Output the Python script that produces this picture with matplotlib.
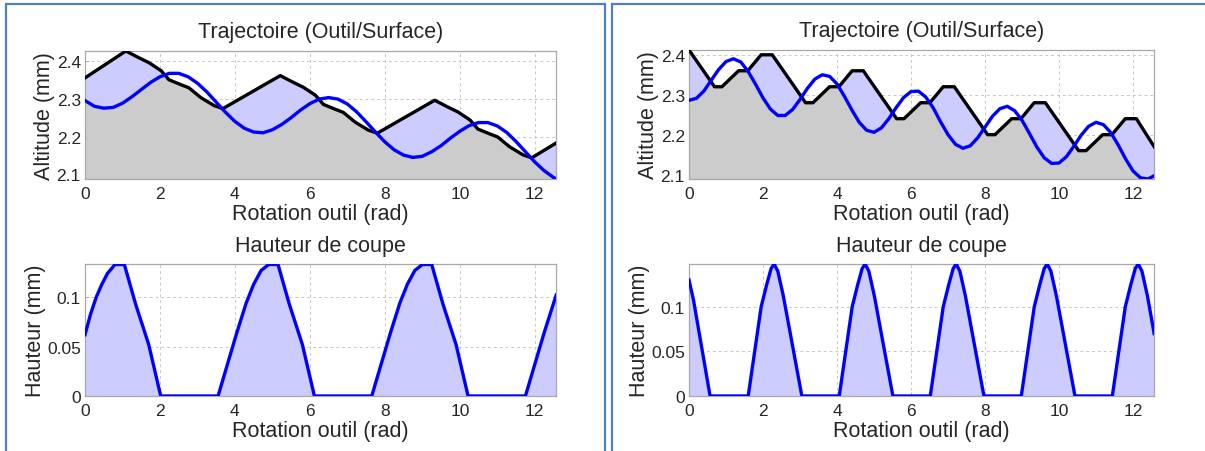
import matplotlib
matplotlib.use('Agg')
import matplotlib.pyplot as plt
from matplotlib.patches import Rectangle

plt.rcParams['font.family'] = ['Liberation Sans', 'DejaVu Sans']

# ---- left case: trajectory (blue = tool, black = surface) ----
left_tool_x = [0, 0.25, 0.5, 0.75, 1.0, 1.25, 1.5, 1.75, 2.0, 2.25, 2.5, 2.75, 3.0, 3.25,
               3.5, 3.75, 4.0, 4.25, 4.5, 4.75, 5.0, 5.25, 5.5, 5.75, 6.0, 6.25, 6.5, 6.75,
               7.0, 7.25, 7.5, 7.75, 8.0, 8.25, 8.5, 8.75, 9.0, 9.25, 9.5, 9.75, 10.0, 10.25,
               10.5, 10.75, 11.0, 11.25, 11.5, 11.75, 12.0, 12.25, 12.5, 12.57]
left_tool_y = [2.295, 2.280, 2.275, 2.277, 2.288, 2.305, 2.324, 2.343, 2.358, 2.367, 2.367,
               2.358, 2.341, 2.318, 2.291, 2.264, 2.240, 2.222, 2.212, 2.210, 2.218, 2.232,
               2.250, 2.270, 2.287, 2.299, 2.303, 2.299, 2.286, 2.265, 2.239, 2.212, 2.186,
               2.165, 2.151, 2.145, 2.148, 2.160, 2.176, 2.196, 2.214, 2.229, 2.237, 2.237,
               2.228, 2.211, 2.187, 2.160, 2.133, 2.110, 2.092, 2.088]
left_surf_x = [0, 1.09, 1.44, 1.71, 2.03, 2.24, 2.56, 2.77, 3.09, 3.44, 3.68,
               5.21, 5.56, 5.83, 6.15, 6.36, 6.68, 6.89, 7.21, 7.56, 7.80,
               9.33, 9.68, 9.95, 10.27, 10.48, 10.80, 11.01, 11.33, 11.68, 11.92, 12.57]
left_surf_y = [2.355, 2.426, 2.408, 2.395, 2.374, 2.350, 2.337, 2.329, 2.303, 2.282, 2.274,
               2.361, 2.343, 2.330, 2.309, 2.285, 2.272, 2.264, 2.238, 2.217, 2.209,
               2.296, 2.278, 2.265, 2.244, 2.220, 2.207, 2.199, 2.173, 2.152, 2.144, 2.183]
left_cut_x = [0, 0.15, 0.3, 0.45, 0.6, 0.8, 1.05, 1.35, 1.7, 2.02, 3.55,
              3.8, 4.05, 4.3, 4.5, 4.7, 4.9, 5.15, 5.45, 5.8, 6.12, 7.65,
              7.9, 8.15, 8.4, 8.6, 8.8, 9.0, 9.25, 9.55, 9.9, 10.22, 11.75,
              12.0, 12.25, 12.57]
left_cut_y = [0.062, 0.083, 0.100, 0.113, 0.124, 0.133, 0.133, 0.093, 0.052, 0.0, 0.0,
              0.032, 0.064, 0.094, 0.113, 0.127, 0.133, 0.133, 0.093, 0.052, 0.0, 0.0,
              0.032, 0.064, 0.094, 0.113, 0.127, 0.133, 0.133, 0.093, 0.052, 0.0, 0.0,
              0.032, 0.064, 0.102]

# ---- right case ----
right_tool_x = [0, 0.2, 0.4, 0.6, 0.8, 1.0, 1.2, 1.4, 1.6, 1.8, 2.0, 2.2, 2.4, 2.6, 2.8,
                3.0, 3.2, 3.4, 3.6, 3.8, 4.0, 4.2, 4.4, 4.6, 4.8, 5.0, 5.2, 5.4, 5.6, 5.8,
                6.0, 6.2, 6.4, 6.6, 6.8, 7.0, 7.2, 7.4, 7.6, 7.8, 8.0, 8.2, 8.4, 8.6, 8.8,
                9.0, 9.2, 9.4, 9.6, 9.8, 10.0, 10.2, 10.4, 10.6, 10.8, 11.0, 11.2, 11.4,
                11.6, 11.8, 12.0, 12.2, 12.4, 12.57]
right_tool_y = [2.286, 2.291, 2.309, 2.336, 2.363, 2.383, 2.390, 2.382, 2.358, 2.326, 2.292,
                2.264, 2.248, 2.248, 2.263, 2.288, 2.316, 2.339, 2.350, 2.346, 2.327, 2.296,
                2.262, 2.231, 2.211, 2.206, 2.217, 2.240, 2.268, 2.293, 2.308, 2.309, 2.294,
                2.267, 2.232, 2.200, 2.176, 2.166, 2.172, 2.192, 2.219, 2.246, 2.265, 2.271,
                2.260, 2.236, 2.203, 2.169, 2.142, 2.128, 2.129, 2.145, 2.171, 2.199, 2.221,
                2.231, 2.225, 2.205, 2.174, 2.139, 2.109, 2.092, 2.089, 2.097]
right_surf_x = [0, 0.69, 0.89, 1.34, 1.59, 1.95, 2.25,
                3.15, 3.35, 3.80, 4.05, 4.41, 4.71,
                5.61, 5.81, 6.26, 6.51, 6.87, 7.17,
                8.07, 8.27, 8.72, 8.97, 9.33, 9.63,
                10.53, 10.73, 11.18, 11.43, 11.79, 12.09, 12.57]
right_surf_y = [2.412, 2.32, 2.32, 2.36, 2.36, 2.40, 2.40,
                2.28, 2.28, 2.32, 2.32, 2.36, 2.36,
                2.24, 2.24, 2.28, 2.28, 2.32, 2.32,
                2.20, 2.20, 2.24, 2.24, 2.28, 2.28,
                2.16, 2.16, 2.20, 2.20, 2.24, 2.24, 2.170]
right_cut_x = [0, 0.12, 0.57,
               1.60, 1.95, 2.10, 2.22, 2.30, 2.40, 2.55, 3.05,
               4.06, 4.41, 4.56, 4.68, 4.76, 4.86, 5.01, 5.51,
               6.52, 6.87, 7.02, 7.14, 7.22, 7.32, 7.47, 7.97,
               8.98, 9.33, 9.48, 9.60, 9.68, 9.78, 9.93, 10.43,
               11.44, 11.79, 11.94, 12.06, 12.14, 12.24, 12.39, 12.57]
right_cut_y = [0.130, 0.108, 0.0,
               0.0, 0.100, 0.125, 0.143, 0.148, 0.140, 0.112, 0.0,
               0.0, 0.100, 0.125, 0.143, 0.148, 0.140, 0.112, 0.0,
               0.0, 0.100, 0.125, 0.143, 0.148, 0.140, 0.112, 0.0,
               0.0, 0.100, 0.125, 0.143, 0.148, 0.140, 0.112, 0.0,
               0.0, 0.100, 0.125, 0.143, 0.148, 0.140, 0.112, 0.070]

xticks = [0, 2, 4, 6, 8, 10, 12]
alt_ticks = [2.1, 2.2, 2.3, 2.4]
cut_ticks = [0, 0.05, 0.1]
cut_labels = ['0', '0.05', '0.1']

LIGHT = '#ccccff'
GRAY = '#cccccc'
BLUE = '#0000ff'
TXT = '#262626'
FS = 15.5

W, H = 1205, 452
fig = plt.figure(figsize=(W / 100, H / 100), dpi=100)


def add_axes(l, t, r, b):
    return fig.add_axes([l / W, 1 - b / H, (r - l) / W, (b - t) / H])


def style(ax, yt, ylabels=None):
    ax.set_xlim(0, 12.566)
    ax.set_xticks(xticks)
    ax.set_yticks(yt)
    if ylabels is not None:
        ax.set_yticklabels(ylabels)
    ax.set_axisbelow(True)
    ax.grid(True, color='#c8c8c8', lw=0.7, linestyle=(0, (3, 3)))
    for s in ax.spines.values():
        s.set_color('#a8a8a8')
        s.set_linewidth(0.9)
    ax.tick_params(direction='in', length=3, width=0.6, color='#a8a8a8',
                   labelsize=12.5, labelcolor=TXT, pad=3)
    ax.tick_params(axis='x', pad=5)
    ax.set_xlabel('Rotation outil (rad)', fontsize=FS, color=TXT, labelpad=1.5)


def traj(ax, tx, ty, sx, sy, ylo, yhi):
    surf = ax.fill_between(sx, ylo, sy, color=LIGHT, lw=0, zorder=1)
    under = ax.fill_between(tx, ylo, ty, color=GRAY, lw=0, zorder=2)
    under.set_clip_path(surf.get_paths()[0], ax.transData)
    ax.plot(sx, sy, color='black', lw=2.4, solid_joinstyle='round', zorder=3)
    ax.plot(tx, ty, color=BLUE, lw=2.4, solid_joinstyle='round', zorder=4)
    ax.set_ylim(ylo, yhi)
    style(ax, alt_ticks)
    ax.set_title('Trajectoire (Outil/Surface)', fontsize=FS, color=TXT, pad=10)
    ax.set_ylabel('Altitude (mm)', fontsize=FS, color=TXT, labelpad=1)


def cut(ax, cx, cy, yhi):
    ax.fill_between(cx, 0, cy, color=LIGHT, lw=0, zorder=1)
    ax.plot(cx, cy, color=BLUE, lw=2.4, solid_joinstyle='round', zorder=3)
    ax.set_ylim(0, yhi)
    style(ax, cut_ticks, cut_labels)
    ax.set_title('Hauteur de coupe', fontsize=FS, color=TXT, pad=9)
    ax.set_ylabel('Hauteur (mm)', fontsize=FS, color=TXT, labelpad=1)


ax1 = add_axes(85, 52, 556, 180)
traj(ax1, left_tool_x, left_tool_y, left_surf_x, left_surf_y, 2.088, 2.426)
ax2 = add_axes(85, 265, 556, 397)
cut(ax2, left_cut_x, left_cut_y, 0.1335)

ax3 = add_axes(689, 51, 1154, 180)
traj(ax3, right_tool_x, right_tool_y, right_surf_x, right_surf_y, 2.089, 2.412)
ax4 = add_axes(689, 265, 1154, 397)
cut(ax4, right_cut_x, right_cut_y, 0.148)

# panel frames
for x0, x1 in [(6, 605), (612, 1215)]:
    fig.patches.append(Rectangle((x0 / W, -0.1), (x1 - x0) / W, 1.1 - 4.5 / H,
                                 transform=fig.transFigure, fill=False,
                                 edgecolor='#4f81bd', lw=1.6))

fig.savefig('out.png', dpi=100)
